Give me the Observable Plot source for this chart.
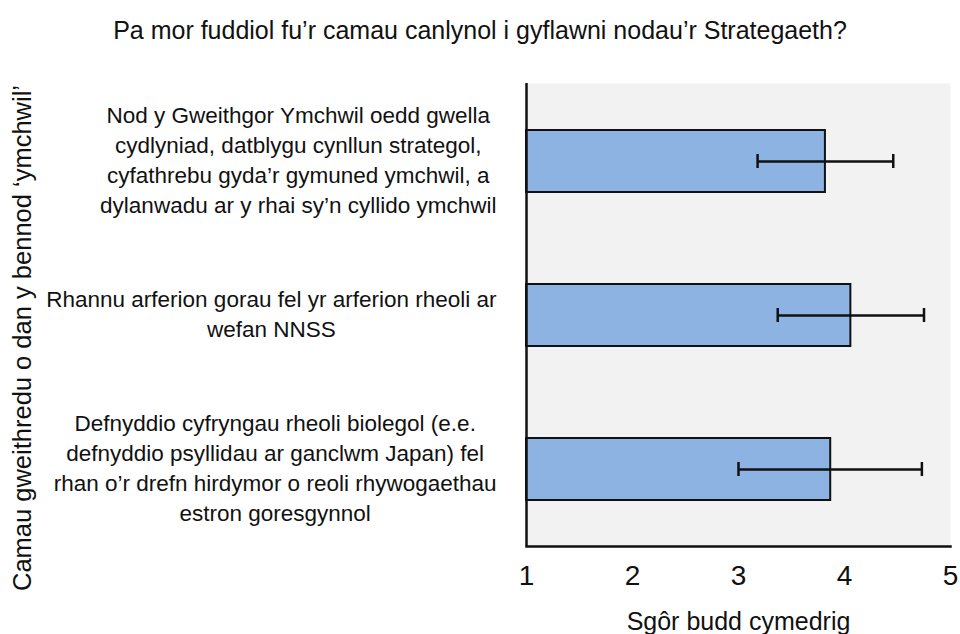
<!DOCTYPE html>
<html>
<head>
<meta charset="utf-8">
<script src="https://cdn.jsdelivr.net/npm/d3@7"></script>
<script src="https://cdn.jsdelivr.net/npm/@observablehq/plot@0.6"></script>
<style>
  html, body { margin: 0; padding: 0; background: #fff; }
  #title { box-sizing: border-box; width: 960px; height: 64px; padding-top: 15px; text-align: center;
           font-family: "Liberation Sans", Arial, sans-serif; font-size: 25px; line-height: 30px; color: #111; }
</style>
</head>
<body>
<div id="title">Pa mor fuddiol fu’r camau canlynol i gyflawni nodau’r Strategaeth?</div>
<div id="chart"></div>
<script>
const categories = [
  "Nod y Gweithgor Ymchwil oedd gwella\ncydlyniad, datblygu cynllun strategol,\ncyfathrebu gyda’r gymuned ymchwil, a\ndylanwadu ar y rhai sy’n cyllido ymchwil",
  "Rhannu arferion gorau fel yr arferion rheoli ar\nwefan NNSS",
  "Defnyddio cyfryngau rheoli biolegol (e.e.\ndefnyddio psyllidau ar ganclwm Japan) fel\nrhan o’r drefn hirdymor o reoli rhywogaethau\nestron goresgynnol"
];
const meanScores = [3.82, 4.06, 3.87];
const errLow = [3.18, 3.37, 3.00];
const errHigh = [4.46, 4.75, 4.73];
const xTicks = [1, 2, 3, 4, 5];
const xTitle = "Sgôr budd cymedrig";
const yTitle = "Camau gweithredu o dan y bennod ‘ymchwil’";

const data = categories.map((c, i) => ({cat: c, mean: meanScores[i], lo: errLow[i], hi: errHigh[i], base: xTicks[0]}));

const labelFont = 22.5;
const ctx = document.createElement("canvas").getContext("2d");
ctx.font = `${labelFont}px "Liberation Sans"`;
const labelGap = 30;
const labelMarks = data.map(d => {
  const w = d3.max(d.cat.split("\n"), s => ctx.measureText(s).width);
  return Plot.text([d], {
    y: "cat", text: "cat", frameAnchor: "left", textAnchor: "middle",
    dx: -(labelGap + w / 2), dy: -3, fontSize: labelFont, lineHeight: 1.33, fill: "#111"
  });
});

const chart = Plot.plot({
  width: 960,
  height: 570,
  marginTop: 19,
  marginBottom: 88,
  marginLeft: 526,
  marginRight: 10,
  style: {fontFamily: '"Liberation Sans", Arial, sans-serif', color: "#111", background: "#fff"},
  x: {domain: [xTicks[0], xTicks[xTicks.length - 1]]},
  y: {domain: categories, paddingInner: 0.6, paddingOuter: 0.3},
  marks: [
    Plot.frame({fill: "#f2f2f2", stroke: null}),
    Plot.barX(data, {y: "cat", x1: "base", x2: "mean", fill: "#8db3e2", stroke: "#111", strokeWidth: 2}),
    Plot.ruleY(data, {y: "cat", x1: "lo", x2: "hi", stroke: "#111", strokeWidth: 2.5}),
    Plot.tickX(data, {y: "cat", x: "lo", stroke: "#111", strokeWidth: 2.5, insetTop: 24, insetBottom: 24}),
    Plot.tickX(data, {y: "cat", x: "hi", stroke: "#111", strokeWidth: 2.5, insetTop: 24, insetBottom: 24}),
    Plot.ruleX([xTicks[0]], {stroke: "#111", strokeWidth: 2.5}),
    Plot.frame({anchor: "bottom", stroke: "#111", strokeWidth: 2.5}),
    Plot.axisX({ticks: xTicks, tickSize: 0, tickPadding: 19, fontSize: 28, label: null, tickFormat: d3.format("d")}),
    Plot.axisY({ticks: [], label: null}),
    ...labelMarks,
    Plot.text([xTitle], {frameAnchor: "bottom", dy: 75.5, fontSize: 25, lineAnchor: "middle", fill: "#111"}),
    Plot.text([yTitle], {frameAnchor: "left", textAnchor: "middle", rotate: -90, dx: -504, dy: 23, fontSize: 25.5, lineAnchor: "middle", fill: "#111"})
  ]
});
document.getElementById("chart").appendChild(chart);
</script>
</body>
</html>
